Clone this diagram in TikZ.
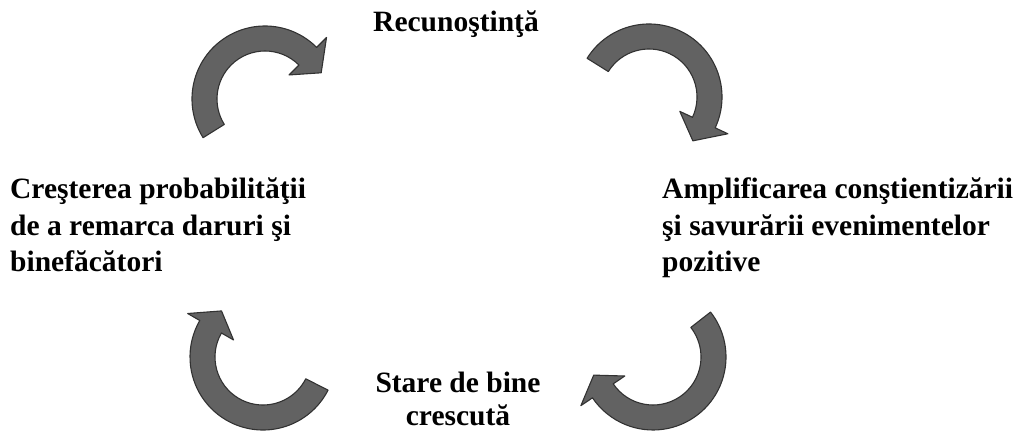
\documentclass[tikz,border=0pt]{standalone}
\usepackage{fontspec}
\setmainfont{Liberation Serif}
\usetikzlibrary{calc}

\definecolor{arrowfill}{RGB}{98,98,98}
\definecolor{arrowline}{RGB}{50,50,50}

% radii of the curved arrows: band, head base and tip
\def\bandOut{73pt}
\def\bandIn{48pt}
\def\headOut{87pt}
\def\headIn{34pt}
\def\headTip{62pt}

% curved arrow around centre #1: tail at angle #2, head base at #3, tip at #4
\newcommand{\cyclearrow}[4]{%
  \filldraw[arrowshape]
    ($(#1)+(#2:\bandOut)$) arc[start angle=#2, end angle=#3, radius=\bandOut]
    -- ($(#1)+(#3:\headOut)$)
    -- ($(#1)+(#4:\headTip)$)
    -- ($(#1)+(#3:\headIn)$)
    -- ($(#1)+(#3:\bandIn)$)
    arc[start angle=#3, end angle=#2, radius=\bandIn]
    -- cycle;}

\begin{document}
\begin{tikzpicture}[x=1pt, y=1pt,
  arrowshape/.style={fill=arrowfill, draw=arrowline, line width=1.1pt, line join=round},
  lbl/.style={inner sep=0pt, font=\fontsize{29.5}{36.5}\selectfont\bfseries}]
  \useasboundingbox (0,0) rectangle (1027,431);

  % centres of the four arrows
  \coordinate (cTL) at (265,332);
  \coordinate (cTR) at (649,334);
  \coordinate (cBR) at (653,74);
  \coordinate (cBL) at (263,74);

  \cyclearrow{cTL}{212}{45}{25}
  \cyclearrow{cTR}{148}{-25}{-45}
  \cyclearrow{cBR}{38}{-146}{-163}
  \cyclearrow{cBL}{-27}{-210}{-228}

  % stages of the cycle
  \node[lbl, anchor=base] (grat) at (456,399) {Recunoştinţă};
  \node[lbl, anchor=north west, align=left] (aware) at (662,253)
    {Amplificarea conştientizării\\şi savurării evenimentelor\\pozitive};
  \node[lbl, anchor=north, align=center, font=\fontsize{29.5}{33}\selectfont\bfseries] (well) at (458,59)
    {Stare de bine\\crescută};
  \node[lbl, anchor=north west, align=left] (notice) at (10,253)
    {Creşterea probabilităţii\\de a remarca daruri şi\\binefăcători};
\end{tikzpicture}
\end{document}
